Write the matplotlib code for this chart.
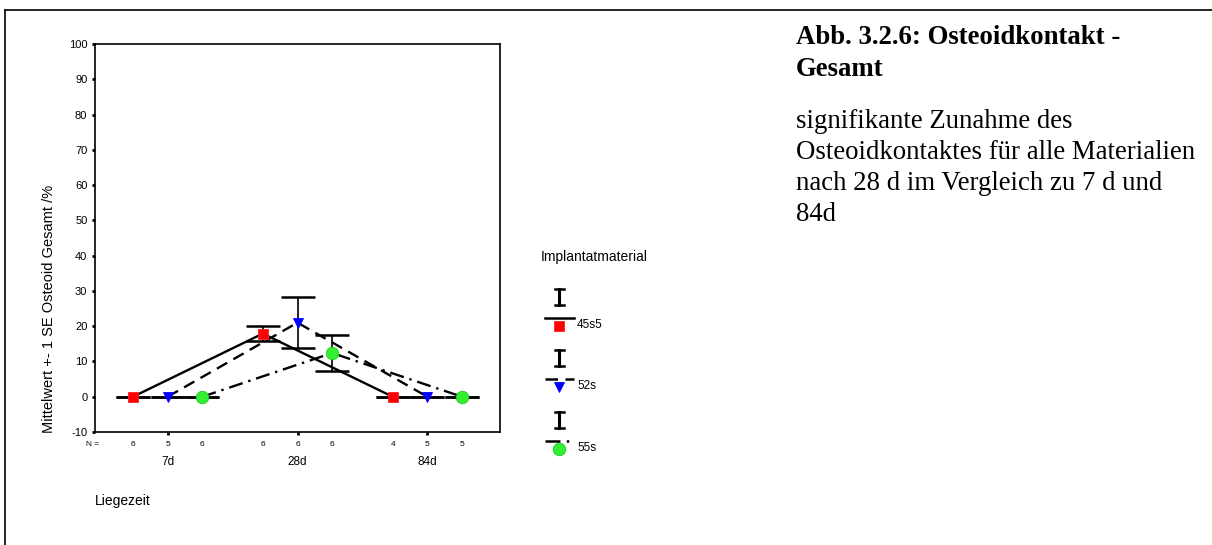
import matplotlib
matplotlib.use("Agg")
import matplotlib.pyplot as plt
import matplotlib.transforms as mtransforms
from matplotlib.lines import Line2D
import numpy as np

# ---------------- data ----------------
groups = ["7d", "28d", "84d"]
materials = ["45s5", "52s", "55s"]
mean_45s5 = [0.0, 17.9, 0.0]
se_45s5 = [0.0, 2.2, 0.0]
mean_52s = [0.0, 21.0, 0.0]
se_52s = [0.0, 7.2, 0.0]
mean_55s = [0.0, 12.4, 0.0]
se_55s = [0.0, 5.2, 0.0]
n_45s5 = [6, 6, 4]
n_52s = [5, 6, 5]
n_55s = [6, 6, 5]
yticks = [-10, 0, 10, 20, 30, 40, 50, 60, 70, 80, 90, 100]

W, H = 1212, 545
plt.rcParams['font.family'] = ['Liberation Sans', 'DejaVu Sans']
fig = plt.figure(figsize=(W / 100, H / 100), dpi=100)
fig.patch.set_facecolor('white')

def fx(x):
    return x / W

def fy(y):
    return 1 - y / H

# outer frame (top and left lines)
fig.add_artist(Line2D([fx(5), fx(W)], [fy(10), fy(10)], color='black', lw=1.2, transform=fig.transFigure))
fig.add_artist(Line2D([fx(5), fx(5)], [fy(10), fy(H)], color='black', lw=1.2, transform=fig.transFigure))

ax = fig.add_axes([fx(95), fy(432), (500 - 95) / W, (432 - 44) / H])
ax.set_xlim(0.44, 3.56)
ax.set_ylim(-10, 100)
for s in ax.spines.values():
    s.set_linewidth(1.2)
    s.set_color('black')

ax.set_yticks(yticks)
ax.set_yticklabels([str(v) for v in yticks], fontsize=8)
ax.tick_params(axis='y', direction='out', length=2.5, width=2, pad=3)
ax.set_xticks([1, 2, 3])
ax.set_xticklabels([])
ax.tick_params(axis='x', direction='out', length=2.5, width=2)

offsets = [-0.267, 0.0, 0.267]
means = [mean_45s5, mean_52s, mean_55s]
ses = [se_45s5, se_52s, se_55s]
ns = [n_45s5, n_52s, n_55s]
styles = ['-', (0, (5, 3)), (0, (6, 2.5, 1, 2.5))]
markers = ['s', 'v', 'o']
mcolors = ['#ff0000', '#0000ff', '#33ee33']
medges = ['#ff2020', '#0000ff', '#22cc22']
msizes = [6.5, 7.5, 9]

xg = np.arange(1, len(groups) + 1)
for i in range(3):
    x = xg + offsets[i]
    ax.plot(x, means[i], linestyle=styles[i], color='black', lw=1.7, zorder=2,
            dash_capstyle='butt', solid_capstyle='butt')
    ax.errorbar(x, means[i], yerr=ses[i], fmt='none', ecolor='black',
                elinewidth=1.2, capsize=12.3, capthick=1.8, zorder=3)
    ax.plot(x, means[i], linestyle='none', marker=markers[i], ms=msizes[i],
            mfc=mcolors[i], mec=medges[i], mew=0.6, zorder=4)

ax.set_ylabel("Mittelwert +- 1 SE Osteoid Gesamt /%", fontsize=10.5)
ax.yaxis.set_label_coords(-(95 - 56) / 405, (432 - 309) / 388)

trans = mtransforms.blended_transform_factory(ax.transData, fig.transFigure)
# N row
fig.text(fx(93), fy(444), "N =", fontsize=6, ha='center', va='center')
for i in range(3):
    for g in range(3):
        ax.text(xg[g] + offsets[i], fy(444), str(ns[i][g]), fontsize=6,
                ha='center', va='center', transform=trans)
for g in range(3):
    ax.text(xg[g], fy(462), groups[g], fontsize=8.5, ha='center', va='center', transform=trans)

fig.text(fx(95), fy(501), "Liegezeit", fontsize=10, ha='left', va='center')

# legend (manual, SPSS style)
fig.text(fx(541), fy(257), "Implantatmaterial", fontsize=10, ha='left', va='center')
entry_tops = [289, 350, 412]
for i in range(3):
    t = entry_tops[i]
    # error bar glyph
    fig.add_artist(Line2D([fx(559), fx(559)], [fy(t), fy(t + 16)], color='black', lw=2.2, transform=fig.transFigure))
    fig.add_artist(Line2D([fx(555), fx(564)], [fy(t), fy(t)], color='black', lw=1.8, transform=fig.transFigure))
    fig.add_artist(Line2D([fx(555), fx(564)], [fy(t + 16), fy(t + 16)], color='black', lw=1.8, transform=fig.transFigure))
    # line sample
    fig.add_artist(Line2D([fx(545), fx(574)], [fy(t + 29), fy(t + 29)], color='black', lw=1.8,
                          linestyle=styles[i], transform=fig.transFigure))
    # marker
    fig.add_artist(Line2D([fx(559)], [fy(t + 37)], linestyle='none', marker=markers[i], ms=msizes[i],
                          mfc=mcolors[i], mec=medges[i], mew=0.6, transform=fig.transFigure))
    fig.text(fx(577), fy(t + 36), materials[i], fontsize=8.5, ha='left', va='center')

# caption text
serif = ['Liberation Serif', 'DejaVu Serif']
fig.text(fx(796), fy(44), "Abb. 3.2.6: Osteoidkontakt -", fontsize=19.3, fontweight='bold',
         family=serif, ha='left', va='baseline')
fig.text(fx(796), fy(76), "Gesamt", fontsize=19.3, fontweight='bold',
         family=serif, ha='left', va='baseline')
body = ["signifikante Zunahme des", "Osteoidkontaktes für alle Materialien",
        "nach 28 d im Vergleich zu 7 d und", "84d"]
for k, line in enumerate(body):
    fig.text(fx(796), fy(128 + 31 * k), line, fontsize=19.3, family=serif, ha='left', va='baseline')

fig.savefig("out.png", dpi=100, facecolor='white')
